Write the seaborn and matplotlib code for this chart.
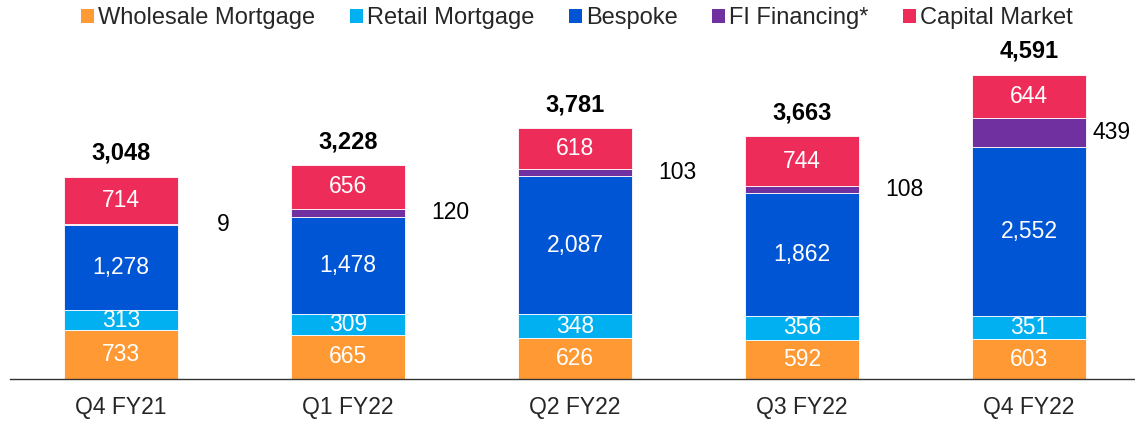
import matplotlib
matplotlib.use("Agg")
import matplotlib.pyplot as plt
from matplotlib.patches import Patch
import seaborn as sns
import pandas as pd
import numpy as np

quarters = ["Q4 FY21", "Q1 FY22", "Q2 FY22", "Q3 FY22", "Q4 FY22"]
wholesale_mortgage = [733, 665, 626, 592, 603]
retail_mortgage = [313, 309, 348, 356, 351]
bespoke = [1278, 1478, 2087, 1862, 2552]
fi_financing = [9, 120, 103, 108, 439]
capital_market = [714, 656, 618, 744, 644]
totals = [3048, 3228, 3781, 3663, 4591]

series_names = ["Wholesale Mortgage", "Retail Mortgage", "Bespoke", "FI Financing*", "Capital Market"]
series_values = [wholesale_mortgage, retail_mortgage, bespoke, fi_financing, capital_market]
colors = ["#FF9933", "#00B0F0", "#0055D4", "#7030A0", "#EE2C5A"]

sns.set_style("white")
plt.rcParams["font.family"] = ["Liberation Sans", "DejaVu Sans"]

fig = plt.figure(figsize=(11.35, 4.22), dpi=100)
ax = fig.add_axes([10 / 1135, 43 / 422, 1 - 10 / 1135, 0.78])

df = pd.DataFrame({"quarter": quarters})
bottom = np.zeros(len(quarters))
for name, vals, col in zip(series_names, series_values, colors):
    df["value"] = vals
    sns.barplot(data=df, x="quarter", y="value", color=col, width=0.5,
                bottom=bottom, ax=ax, edgecolor="white", linewidth=0.6,
                saturation=1)
    mids = bottom + np.array(vals) / 2
    for i, v in enumerate(vals):
        if name == "FI Financing*":
            x = i + 0.45
            ha = "center"
            if i == len(quarters) - 1:
                x, ha = i + 0.28, "left"
            ax.text(x, mids[i], f"{v:,}", ha=ha, va="center",
                    fontsize=16.5, color="black")
        else:
            ax.text(i, mids[i], f"{v:,}", ha="center", va="center",
                    fontsize=16.5, color="white")
    bottom = bottom + np.array(vals)

for i, t in enumerate(totals):
    ax.annotate(f"{t:,}", (i, t), xytext=(0, 17), textcoords="offset points",
                ha="center", va="center", fontsize=17, fontweight="bold",
                color="black", annotation_clip=False)

ax.set_xlim(-0.489, 4.467)
ax.set_ylim(0, 4591 / (304 / 329))
ax.set_xlabel("")
ax.set_ylabel("")
ax.set_yticks([])
ax.tick_params(axis="x", length=0, pad=12, labelsize=16.5)
for s in ["top", "right", "left"]:
    ax.spines[s].set_visible(False)
ax.spines["bottom"].set_color("#333333")
ax.spines["bottom"].set_linewidth(1.0)

handles = [Patch(facecolor=c, edgecolor="none") for c in colors]
fig.legend(handles, series_names, loc="center", ncol=5,
           bbox_to_anchor=(577 / 1135, 1 - 18 / 422), frameon=False,
           fontsize=17, handlelength=0.55, handleheight=0.55,
           handletextpad=0.18, columnspacing=1.45)

fig.savefig("out.png", dpi=100)
